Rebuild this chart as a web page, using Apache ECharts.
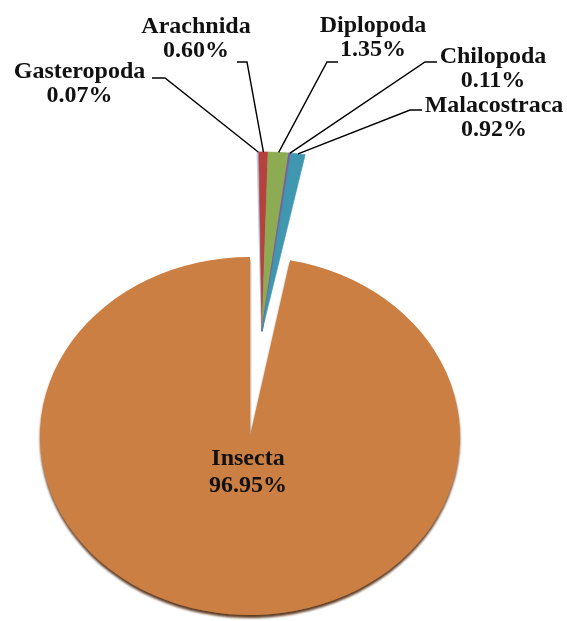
<!DOCTYPE html>
<html>
<head>
<meta charset="utf-8">
<script src="https://cdn.jsdelivr.net/npm/echarts@6/dist/echarts.min.js"></script>
<style>
  html, body { margin: 0; padding: 0; background: #ffffff; width: 567px; height: 621px; overflow: hidden; }
  #pie, #out, #lab { position: absolute; left: 0; top: 0; width: 567px; height: 621px; }
  /* horizontal stretch gives the tilted (elliptical) 3-D pie look */
  #pie { transform: scaleX(1.173); transform-origin: 250px 0; }
  #out { transform: scaleX(1.39); transform-origin: 262px 0; }
</style>
</head>
<body>
<div id="pie"></div>
<div id="out"></div>
<div id="lab"></div>
<script>
// ---------------- data ----------------
const categories = ['Gasteropoda', 'Arachnida', 'Diplopoda', 'Chilopoda', 'Malacostraca', 'Insecta'];
const shares     = [0.07, 0.60, 1.35, 0.11, 0.92, 96.95];
const exploded   = [true, true, true, true, true, false];

// ---------------- styles / layout ----------------
const colors  = ['#b9cde5', '#b5423f', '#8dab52', '#7c5f9e', '#3f98b0', '#cc7f42'];
const borders = [1.6, 0.6, 0.6, 1.2, 0.6, 0];
const MAIN = { center: [250, 436], stretch: 1.173, startAngle: 90 };
const OUT  = { center: [262, 331], stretch: 1.39,  startAngle: 91 };
const RADIUS = 179;
const NONE = 'rgba(0,0,0,0)';

const labelSpots = {
  Gasteropoda:  { x: 79.5, y: 84,    line: [[165, 78], [152, 78]] },
  Arachnida:    { x: 196,  y: 39,    line: [[247, 62], [237, 62]] },
  Diplopoda:    { x: 373,  y: 37.5,  line: [[327, 62], [338, 62]] },
  Chilopoda:    { x: 493,  y: 69,    line: [[425, 62], [437, 62]] },
  Malacostraca: { x: 494,  y: 118,   line: [[410, 110], [422, 110]] },
  Insecta:      { x: 248,  y: 472.5 }
};

const textStyle = {
  fontFamily: 'Liberation Serif',
  fontWeight: 'bold',
  fontSize: 24,
  lineHeight: 24,
  color: '#111111'
};

function fmt(p) { return p.name + '\n' + p.percent.toFixed(2) + '%'; }

function layoutFn(p) {
  const s = labelSpots[categories[p.dataIndex]];
  if (!s) return {};
  const geo = p.seriesIndex === 0 ? MAIN : OUT;
  const out = { x: s.x, y: s.y, align: 'center', verticalAlign: 'middle' };
  if (s.line && p.labelLinePoints) {
    const a = p.labelLinePoints[0];
    const ox = geo.center[0];
    out.labelLinePoints = [[ox + (a[0] - ox) * geo.stretch, a[1]], s.line[0], s.line[1]];
  }
  return out;
}

function basePie(geo) {
  return {
    type: 'pie',
    radius: RADIUS,
    center: geo.center,
    startAngle: geo.startAngle,
    clockwise: true,
    silent: true,
    animation: false,
    avoidLabelOverlap: false
  };
}

// ---------------- layer 1: main slice (stretched) ----------------
const pieChart = echarts.init(document.getElementById('pie'), null, { renderer: 'svg' });
pieChart.setOption({
  backgroundColor: 'transparent',
  series: [Object.assign(basePie(MAIN), {
    label: { show: false }, labelLine: { show: false },
    data: categories.map((n, i) => ({
      name: n, value: shares[i],
      itemStyle: exploded[i] ? { color: NONE } : {
        color: colors[i],
        shadowColor: 'rgba(80,40,10,0.9)', shadowBlur: 2, shadowOffsetY: 3
      }
    }))
  })]
});

// ---------------- layer 2: pulled-out slices (stretched) ----------------
const outChart = echarts.init(document.getElementById('out'), null, { renderer: 'svg' });
outChart.setOption({
  backgroundColor: 'transparent',
  series: [Object.assign(basePie(OUT), {
    label: { show: false }, labelLine: { show: false },
    data: categories.map((n, i) => ({
      name: n, value: shares[i],
      itemStyle: exploded[i]
        ? { color: colors[i], borderColor: colors[i], borderWidth: borders[i] }
        : { color: NONE }
    }))
  })]
});

// ---------------- layer 3: labels (not stretched) ----------------
const labChart = echarts.init(document.getElementById('lab'), null, { renderer: 'canvas' });
labChart.setOption({
  backgroundColor: 'transparent',
  series: [
    Object.assign(basePie(MAIN), {
      itemStyle: { color: NONE },
      label: Object.assign({ position: 'inside', formatter: fmt }, textStyle, { lineHeight: 27 }),
      labelLine: { show: false },
      labelLayout: layoutFn,
      data: categories.map((n, i) => ({ name: n, value: shares[i], label: { show: !exploded[i] } }))
    }),
    Object.assign(basePie(OUT), {
      itemStyle: { color: NONE },
      label: Object.assign({ position: 'outside', formatter: fmt }, textStyle),
      labelLine: { show: true, length: 10, length2: 10, lineStyle: { color: '#000000', width: 1.4 } },
      labelLayout: layoutFn,
      data: categories.map((n, i) => ({
        name: n, value: shares[i],
        label: { show: exploded[i] }, labelLine: { show: exploded[i] }
      }))
    })
  ]
});
</script>
</body>
</html>
